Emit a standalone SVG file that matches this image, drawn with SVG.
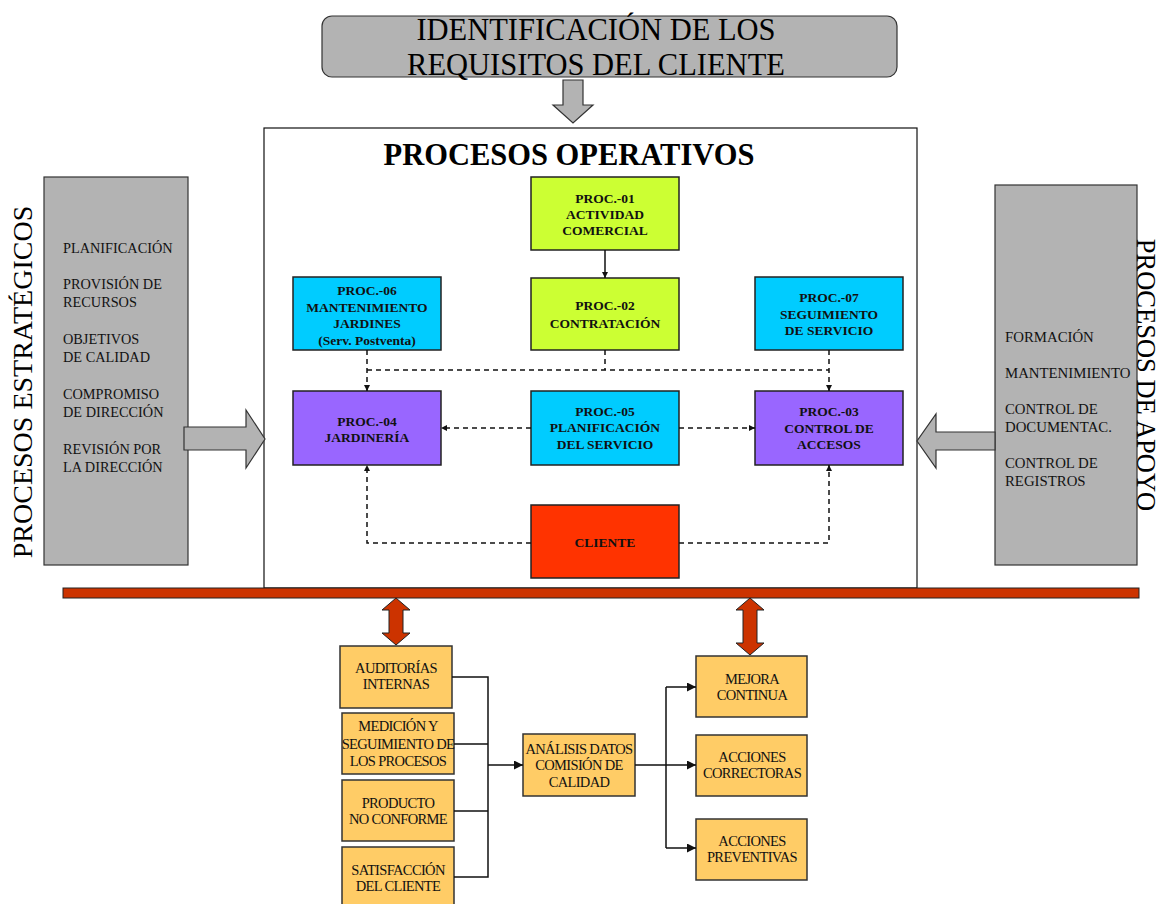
<svg xmlns="http://www.w3.org/2000/svg" width="1161" height="904" viewBox="0 0 1161 904">
<defs>
<style>
.t{font-family:"Liberation Serif",serif;fill:#000}
.pb{font-family:"Liberation Serif",serif;font-weight:bold;font-size:13.5px;text-anchor:middle;fill:#111}
.ob{font-family:"Liberation Serif",serif;font-size:14.5px;text-anchor:middle;letter-spacing:-0.65px;fill:#111}
.side{font-family:"Liberation Serif",serif;font-size:14.3px;fill:#111}
.sider{font-family:"Liberation Serif",serif;font-size:14.8px;fill:#111}
.box{stroke:#222;stroke-width:1.5}
.gray{fill:#B3B3B3;stroke:#333;stroke-width:1.2}
.org{fill:#FFCC66;stroke:#333;stroke-width:1.5}
.dash{fill:none;stroke:#111;stroke-width:1.5;stroke-dasharray:5,4}
.sol{fill:none;stroke:#111;stroke-width:1.5}
</style>
<marker id="ah" viewBox="0 0 10 10" refX="10" refY="5" markerWidth="6" markerHeight="6" orient="auto" markerUnits="userSpaceOnUse">
<path d="M0,0 L10,5 L0,10 z" fill="#111"/>
</marker>
<marker id="ahb" viewBox="0 0 10 10" refX="10" refY="5" markerWidth="9" markerHeight="9" orient="auto" markerUnits="userSpaceOnUse">
<path d="M0,0 L10,5 L0,10 z" fill="#111"/>
</marker>
</defs>
<rect width="1161" height="904" fill="#fff"/>

<g id="requisitos">
<rect x="322" y="16" width="575" height="61" rx="10" class="gray"/>
<text class="t" x="596" y="40" font-size="30.5" text-anchor="middle">IDENTIFICACIÓN DE LOS</text>
<text class="t" x="596" y="75" font-size="30.5" text-anchor="middle">REQUISITOS DEL CLIENTE</text>
<path d="M563,80 H583 V105 H593 L573,123 L553,105 H563 Z" class="gray"/>
</g>

<g id="operativos">
<rect x="264" y="128" width="653" height="460" fill="#fff" stroke="#111" stroke-width="1.2"/>
<text class="t" x="569" y="165" font-size="30.5" font-weight="bold" text-anchor="middle">PROCESOS OPERATIVOS</text>
</g>

<g id="estrategicos">
<rect x="44" y="177" width="144" height="388" class="gray"/>
<text class="t" font-size="28" text-anchor="middle" transform="translate(32,382) rotate(-90)">PROCESOS ESTRATÉGICOS</text>
<text class="side" x="63" y="253">PLANIFICACIÓN</text>
<text class="side" x="63" y="289">PROVISIÓN DE</text>
<text class="side" x="63" y="307">RECURSOS</text>
<text class="side" x="63" y="344">OBJETIVOS</text>
<text class="side" x="63" y="362">DE CALIDAD</text>
<text class="side" x="63" y="399">COMPROMISO</text>
<text class="side" x="63" y="417">DE DIRECCIÓN</text>
<text class="side" x="63" y="454">REVISIÓN POR</text>
<text class="side" x="63" y="472">LA DIRECCIÓN</text>
<path d="M184,427 H246 V410 L265,439 L246,468 V450 H184 Z" class="gray"/>
</g>

<g id="apoyo">
<rect x="995" y="185" width="142" height="380" class="gray"/>
<text class="t" font-size="26.5" text-anchor="middle" transform="translate(1137,375) rotate(90)">PROCESOS DE APOYO</text>
<text class="sider" x="1005" y="342">FORMACIÓN</text>
<text class="sider" x="1005" y="378">MANTENIMIENTO</text>
<text class="sider" x="1005" y="414">CONTROL DE</text>
<text class="sider" x="1005" y="432">DOCUMENTAC.</text>
<text class="sider" x="1005" y="468">CONTROL DE</text>
<text class="sider" x="1005" y="486">REGISTROS</text>
<path d="M995,432 H936 V414 L917,441 L936,468 V450 H995 Z" class="gray"/>
</g>

<g id="proc01">
<rect x="531" y="177" width="148" height="73" fill="#CCFF33" class="box"/>
<text class="pb" x="605" y="203">PROC.-01</text>
<text class="pb" x="605" y="219">ACTIVIDAD</text>
<text class="pb" x="605" y="235">COMERCIAL</text>
</g>
<g id="proc02">
<rect x="531" y="278" width="148" height="72" fill="#CCFF33" class="box"/>
<text class="pb" x="605" y="310">PROC.-02</text>
<text class="pb" x="605" y="328">CONTRATACIÓN</text>
</g>
<g id="proc06">
<rect x="293" y="277" width="148" height="73" fill="#00CCFF" class="box"/>
<text class="pb" x="367" y="295">PROC.-06</text>
<text class="pb" x="367" y="312">MANTENIMIENTO</text>
<text class="pb" x="367" y="328">JARDINES</text>
<text class="pb" x="367" y="345" font-size="12">(Serv. Postventa)</text>
</g>
<g id="proc07">
<rect x="755" y="277" width="148" height="73" fill="#00CCFF" class="box"/>
<text class="pb" x="829" y="302">PROC.-07</text>
<text class="pb" x="829" y="319">SEGUIMIENTO</text>
<text class="pb" x="829" y="335">DE SERVICIO</text>
</g>
<g id="proc04">
<rect x="293" y="391" width="148" height="74" fill="#9966FF" class="box"/>
<text class="pb" x="367" y="426">PROC.-04</text>
<text class="pb" x="367" y="442">JARDINERÍA</text>
</g>
<g id="proc05">
<rect x="531" y="391" width="148" height="74" fill="#00CCFF" class="box"/>
<text class="pb" x="605" y="416">PROC.-05</text>
<text class="pb" x="605" y="432">PLANIFICACIÓN</text>
<text class="pb" x="605" y="449">DEL SERVICIO</text>
</g>
<g id="proc03">
<rect x="755" y="391" width="148" height="74" fill="#9966FF" class="box"/>
<text class="pb" x="829" y="416">PROC.-03</text>
<text class="pb" x="829" y="433">CONTROL DE</text>
<text class="pb" x="829" y="449">ACCESOS</text>
</g>
<g id="cliente">
<rect x="531" y="505" width="148" height="73" fill="#FF3300" class="box"/>
<text class="pb" x="605" y="547">CLIENTE</text>
</g>

<g id="barra">
<rect x="63" y="588" width="1076" height="10" fill="#CC3300" stroke="#222" stroke-width="1"/>
<path d="M396,598 L410,610 H403 V633 H410 L396,645 L382,633 H389 V610 H382 Z" fill="#CC3300" stroke="#222" stroke-width="1"/>
<path d="M750,598 L764,610 H757 V643 H764 L750,655 L736,643 H743 V610 H736 Z" fill="#CC3300" stroke="#222" stroke-width="1"/>
</g>

<g id="auditorias">
<rect x="340" y="646" width="112" height="62" class="org"/>
<text class="ob" x="396" y="673">AUDITORÍAS</text>
<text class="ob" x="396" y="689">INTERNAS</text>
</g>
<g id="medicion">
<rect x="342" y="713" width="112" height="61" class="org"/>
<text class="ob" x="398" y="731">MEDICIÓN Y</text>
<text class="ob" x="398" y="749">SEGUIMIENTO DE</text>
<text class="ob" x="398" y="766">LOS PROCESOS</text>
</g>
<g id="producto">
<rect x="342" y="780" width="112" height="61" class="org"/>
<text class="ob" x="398" y="808">PRODUCTO</text>
<text class="ob" x="398" y="824">NO CONFORME</text>
</g>
<g id="satisfaccion">
<rect x="342" y="847" width="112" height="62" class="org"/>
<text class="ob" x="398" y="875">SATISFACCIÓN</text>
<text class="ob" x="398" y="891">DEL CLIENTE</text>
</g>
<g id="analisis">
<rect x="523" y="734" width="112" height="62" class="org"/>
<text class="ob" x="579" y="754">ANÁLISIS DATOS</text>
<text class="ob" x="579" y="770">COMISIÓN DE</text>
<text class="ob" x="579" y="787">CALIDAD</text>
</g>
<g id="mejora">
<rect x="696" y="656" width="111" height="61" class="org"/>
<text class="ob" x="752" y="684">MEJORA</text>
<text class="ob" x="752" y="700">CONTINUA</text>
</g>
<g id="correctoras">
<rect x="696" y="735" width="111" height="61" class="org"/>
<text class="ob" x="752" y="762">ACCIONES</text>
<text class="ob" x="752" y="778">CORRECTORAS</text>
</g>
<g id="preventivas">
<rect x="696" y="819" width="111" height="61" class="org"/>
<text class="ob" x="752" y="846">ACCIONES</text>
<text class="ob" x="752" y="862">PREVENTIVAS</text>
</g>

<g id="connectors">
<line x1="605" y1="250" x2="605" y2="278" class="sol" marker-end="url(#ah)"/>
<path d="M367,350 V391" class="dash" marker-end="url(#ah)"/>
<path d="M605,350 V370 M367,370 H829" class="dash"/>
<path d="M829,350 V391" class="dash" marker-end="url(#ah)"/>
<path d="M531,428 H441" class="dash" marker-end="url(#ah)"/>
<path d="M679,428 H755" class="dash" marker-end="url(#ah)"/>
<path d="M531,543 H367 V465" class="dash" marker-end="url(#ah)"/>
<path d="M679,543 H829 V465" class="dash" marker-end="url(#ah)"/>
<path d="M452,677 H488 V877 H454 M454,744 H488 M454,811 H488" class="sol"/>
<path d="M488,765 H523" class="sol" marker-end="url(#ahb)"/>
<path d="M635,765 H666 M666,687 V848" class="sol"/>
<path d="M666,687 H696" class="sol" marker-end="url(#ahb)"/>
<path d="M666,765 H696" class="sol" marker-end="url(#ahb)"/>
<path d="M666,848 H696" class="sol" marker-end="url(#ahb)"/>
</g>
</svg>
